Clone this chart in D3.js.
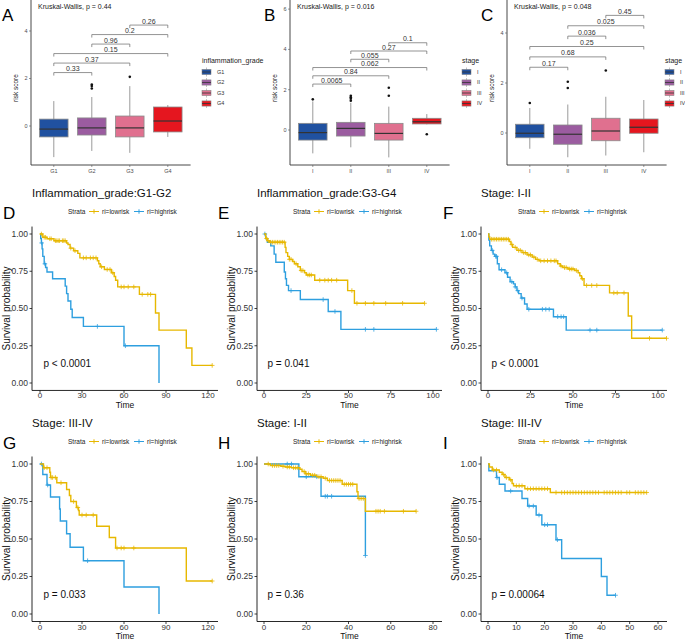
<!DOCTYPE html>
<html>
<head>
<meta charset="utf-8">
<script src="https://cdn.jsdelivr.net/npm/d3@7"></script>
<style>
  body { margin: 0; background: #fff; }
  text { font-family: "Liberation Sans", Arial, sans-serif; }
</style>
</head>
<body>
<svg id="fig" width="685" height="641"></svg>
<script>
// ---------- box plot data (whisker low, q1, median, q3, whisker high) ----------
const gradeGroups = ["G1", "G2", "G3", "G4"];
const stageGroups = ["I", "II", "III", "IV"];
const boxColors = ["#2051a0", "#9b5ca0", "#e0708f", "#e5161f"];

const aStats = [[-1.31, -0.46, -0.13, 0.29, 1.05], [-1.05, -0.38, -0.08, 0.34, 1.22], [-1.13, -0.46, -0.08, 0.42, 1.68], [-0.46, -0.25, 0.21, 0.80, 0.88]];
const aOutliers = [[], [1.58, 1.68, 1.75], [2.07], []];
const aPvals = ["0.33", "0.37", "0.15", "0.96", "0.2", "0.26"];

const bStats = [[-1.16, -0.5, -0.13, 0.33, 1.42], [-0.86, -0.3, 0.08, 0.38, 1.35], [-1.36, -0.5, -0.17, 0.33, 1.16], [0.28, 0.30, 0.41, 0.58, 0.79]];
const bOutliers = [[1.52], [1.45, 1.55, 1.62, 1.7], [2.1, 1.7], [-0.21]];
const bPvals = ["0.0065", "0.84", "0.062", "0.055", "0.27", "0.1"];

const cStats = [[-0.63, -0.19, -0.01, 0.35, 1.0], [-0.97, -0.45, -0.05, 0.32, 1.14], [-0.9, -0.31, 0.08, 0.59, 1.45], [-0.77, -0.01, 0.23, 0.56, 1.32]];
const cOutliers = [[1.2], [2.05, 1.8], [2.5], []];
const cPvals = ["0.17", "0.68", "0.25", "0.036", "0.025", "0.45"];

// pairwise comparisons, in drawing order (bottom to top)
const pairs = [[0, 1], [0, 2], [0, 3], [1, 2], [1, 3], [2, 3]];

// ---------- Kaplan-Meier data: [time, survival after drop] and censor times ----------
const dLow = [[2, 0.978], [5, 0.968], [10, 0.955], [19, 0.94], [20, 0.93], [21.5, 0.905], [24, 0.888], [27, 0.87], [28.5, 0.84], [41, 0.82], [42, 0.80], [43, 0.78], [46, 0.762], [51, 0.74], [53, 0.715], [54, 0.69], [55.5, 0.645], [71, 0.595], [82.5, 0.47], [85, 0.355], [104.5, 0.235], [108.5, 0.118]];
const dLowCens = [1, 3, 4, 7, 8, 11, 12, 13, 14, 16, 17, 18, 22, 25, 31, 33, 36, 38, 40, 44, 48, 50, 52, 58, 60, 63, 67, 73, 77, 79, 123];
const dHigh = [[0.5, 0.97], [1, 0.94], [1.5, 0.90], [2, 0.85], [3, 0.80], [4, 0.775], [5, 0.745], [9, 0.70], [18, 0.65], [19, 0.60], [20, 0.55], [22, 0.495], [23, 0.44], [31, 0.38], [60, 0.25], [85, 0]];
const dHighCens = [1.2, 3.5, 41, 61];

const eLow = [[1, 0.97], [2, 0.955], [3.5, 0.945], [12.5, 0.91], [13, 0.875], [14, 0.85], [15, 0.83], [17, 0.815], [18, 0.80], [20, 0.78], [21.5, 0.755], [24, 0.74], [25, 0.725], [30, 0.69], [49.5, 0.62], [53.5, 0.535]];
const eLowCens = [1.5, 2.5, 4, 5, 6, 7, 8, 9, 10, 11, 12, 15, 16, 19, 22, 23, 26, 27, 28, 33, 36, 38, 40, 43, 52, 55, 60, 65, 72, 82, 95];
const eHigh = [[1, 0.97], [2, 0.945], [4, 0.92], [6, 0.865], [7, 0.81], [12, 0.745], [12.7, 0.70], [13.3, 0.655], [14.5, 0.62], [21.5, 0.56], [38, 0.48], [45.5, 0.36]];
const eHighCens = [0.5, 16, 35, 42, 60, 65, 102];

const fLow = [[0.5, 0.98], [1, 0.965], [12.5, 0.95], [13.5, 0.93], [14.5, 0.91], [17, 0.89], [20, 0.875], [23, 0.86], [26, 0.845], [28, 0.83], [30, 0.82], [41, 0.80], [42.5, 0.785], [44, 0.775], [47, 0.765], [51, 0.755], [53, 0.74], [54, 0.72], [55, 0.70], [56.5, 0.655], [71.5, 0.605], [82.5, 0.45], [84.5, 0.30]];
const fLowCens = [2, 3, 4, 5, 6, 7, 8, 9, 10, 11, 12, 14, 16, 18, 19, 21, 22, 24, 25, 27, 29, 31, 33, 35, 37, 39, 40, 43, 45, 46, 48, 49, 50, 52, 55.5, 58, 61, 64, 74, 76, 80, 95, 105];
const fHigh = [[0.5, 0.96], [1, 0.92], [2, 0.89], [3, 0.865], [4, 0.85], [5.5, 0.80], [6.5, 0.76], [10, 0.74], [11.5, 0.71], [13, 0.68], [15, 0.665], [16, 0.645], [17, 0.62], [18, 0.60], [19.5, 0.57], [21.5, 0.53], [23, 0.495], [38.5, 0.445], [46, 0.355]];
const fHighCens = [2.5, 4.5, 5, 8, 11, 14, 16, 17.5, 20, 24, 32, 34, 36, 41, 43, 44.5, 60, 64, 102.5];

const gLow = [[2.5, 0.975], [7, 0.945], [7.5, 0.91], [12, 0.875], [19, 0.83], [21, 0.79], [22, 0.75], [26, 0.71], [27.5, 0.69], [28, 0.66], [40.5, 0.585], [49.5, 0.51], [54, 0.44], [104.5, 0.22]];
const gLowCens = [3, 5, 8, 9, 11, 15, 24, 27, 30, 33, 38, 55, 58, 60, 67, 123];
const gHigh = [[2, 0.93], [5, 0.86], [7.5, 0.78], [14, 0.70], [14.5, 0.62], [19, 0.535], [21.5, 0.445], [31, 0.355], [60, 0.18], [85, 0]];
const gHighCens = [1, 5.5, 34];

const hLow = [[3, 0.99], [8, 0.985], [10, 0.98], [13, 0.975], [17, 0.965], [18, 0.95], [19.5, 0.935], [22, 0.925], [25, 0.915], [28, 0.905], [30, 0.89], [37, 0.865], [44, 0.815], [44.5, 0.77], [48, 0.685]];
const hLowCens = [2, 4, 5, 6, 7, 9, 11, 12, 14, 15, 16, 19, 20, 21, 23, 24, 26, 27, 29, 31, 32, 33, 34, 35, 36, 38, 39, 40, 41, 42, 45, 46, 47, 53, 54, 55, 57, 66, 72];
const hHigh = [[16.5, 0.915], [27, 0.785], [48, 0.39]];
const hHighCens = [11, 13, 20, 25, 29, 30, 32, 48];

const iLow = [[0.5, 0.98], [1.5, 0.96], [4, 0.945], [5, 0.93], [6, 0.91], [7.5, 0.895], [8.5, 0.87], [9, 0.855], [13, 0.835], [22, 0.81]];
const iLowCens = [2, 3, 5.5, 6.5, 8, 10, 11, 12, 14, 15, 16, 17, 18, 19, 20, 21, 24, 26, 27, 28, 29, 30, 31, 32, 33, 34, 35, 36, 37, 38, 39, 41, 42, 43, 44, 45, 46, 47, 49, 50, 52, 53, 54, 55, 56];
const iHigh = [[0.3, 0.955], [3, 0.91], [4, 0.865], [6, 0.82], [12, 0.77], [14, 0.72], [17, 0.66], [19, 0.595], [24, 0.495], [26, 0.37], [40, 0.25], [42, 0.125]];
const iHighCens = [3.2, 8, 14.5, 16, 18, 20, 21, 24.5, 45];

const survTicks = [0, 0.25, 0.5, 0.75, 1];
const lowColor = "#E7B800", highColor = "#2E9FDF";

const svg = d3.select("#fig");

// ---------- box plot panel ----------
function boxPanel(o) {
  const g = svg.append("g");
  const step = 38;
  const x = d3.scalePoint().domain(o.groups).range([o.left + 0.6 * step, o.left + 3.6 * step]);
  const y = d3.scaleLinear().domain([0, 2]).range([o.zeroPx, o.zeroPx - o.twoPx]);
  const bottom = 165, right = o.left + 4.2 * step;
  const bw = 0.75 * step;

  // axes
  g.append("line").attr("x1", o.left).attr("x2", o.left).attr("y1", 0).attr("y2", bottom).attr("stroke", "#333").attr("stroke-width", 0.9);
  g.append("line").attr("x1", o.left).attr("x2", right).attr("y1", bottom).attr("y2", bottom).attr("stroke", "#333").attr("stroke-width", 0.9);
  o.yTicks.forEach(v => {
    g.append("line").attr("x1", o.left - 2).attr("x2", o.left).attr("y1", y(v)).attr("y2", y(v)).attr("stroke", "#555").attr("stroke-width", 0.6);
    g.append("text").attr("x", o.left - 3.5).attr("y", y(v)).attr("dy", "0.35em").attr("text-anchor", "end")
      .attr("font-size", 5.5).attr("fill", "#4d4d4d").text(v);
  });
  o.groups.forEach(k => {
    g.append("line").attr("x1", x(k)).attr("x2", x(k)).attr("y1", bottom).attr("y2", bottom + 2).attr("stroke", "#555").attr("stroke-width", 0.6);
    g.append("text").attr("x", x(k)).attr("y", bottom + 8).attr("text-anchor", "middle")
      .attr("font-size", 5.5).attr("fill", "#4d4d4d").text(k);
  });
  g.append("text").attr("transform", `translate(${o.left - 13},88) rotate(-90)`).attr("text-anchor", "middle")
    .attr("font-size", 6.5).attr("fill", "#222").text("risk score");

  // boxes
  o.groups.forEach((k, i) => {
    const s = o.stats[i], cx = x(k);
    g.append("line").attr("x1", cx).attr("x2", cx).attr("y1", y(s[0])).attr("y2", y(s[4])).attr("stroke", "#9a9a9a").attr("stroke-width", 1);
    g.append("rect").attr("x", cx - bw / 2).attr("width", bw).attr("y", y(s[3])).attr("height", y(s[1]) - y(s[3]))
      .attr("fill", boxColors[i]).attr("stroke", "#8a8a8a").attr("stroke-width", 0.8);
    g.append("line").attr("x1", cx - bw / 2).attr("x2", cx + bw / 2).attr("y1", y(s[2])).attr("y2", y(s[2])).attr("stroke", "#333").attr("stroke-width", 1.2);
    g.selectAll(null).data(o.outliers[i]).enter().append("circle")
      .attr("cx", cx).attr("cy", d => y(d)).attr("r", 1.3).attr("fill", "#111");
  });

  // pairwise brackets
  pairs.forEach((p, i) => {
    const yy = y(o.base + i * o.inc), x1 = x(o.groups[p[0]]), x2 = x(o.groups[p[1]]);
    g.append("path").attr("d", `M${x1},${yy + 3}V${yy}H${x2}V${yy + 3}`).attr("fill", "none").attr("stroke", "#666").attr("stroke-width", 0.7);
    g.append("text").attr("x", (x1 + x2) / 2).attr("y", yy - 1.5).attr("text-anchor", "middle")
      .attr("font-size", 7).attr("fill", "#333").text(o.pvals[i]);
  });

  g.append("text").attr("x", o.left + 7).attr("y", 8.5).attr("font-size", 7).attr("fill", "#222").text(o.kw);
  g.append("text").attr("x", o.letterX).attr("y", 21).attr("font-size", 17).attr("fill", "#000").text(o.letter);

  // legend
  const lg = svg.append("g");
  lg.append("text").attr("x", o.legX).attr("y", 63).attr("font-size", 7).attr("fill", "#222").text(o.legTitle);
  o.groups.forEach((k, i) => {
    const cy = 72 + i * 10.5;
    lg.append("line").attr("x1", o.legX + 4.5).attr("x2", o.legX + 4.5).attr("y1", cy - 4.5).attr("y2", cy + 4.5).attr("stroke", "#9a9a9a").attr("stroke-width", 0.6);
    lg.append("rect").attr("x", o.legX).attr("y", cy - 2.6).attr("width", 9).attr("height", 5.2).attr("fill", boxColors[i]).attr("stroke", "#8a8a8a").attr("stroke-width", 0.6);
    lg.append("line").attr("x1", o.legX).attr("x2", o.legX + 9).attr("y1", cy).attr("y2", cy).attr("stroke", "#333").attr("stroke-width", 0.8);
    lg.append("text").attr("x", o.legX + 15).attr("y", cy).attr("dy", "0.35em").attr("font-size", 5.5).attr("fill", "#333").text(k);
  });
}

boxPanel({ left: 31, zeroPx: 126, twoPx: 47.5, yTicks: [0, 2, 4], groups: gradeGroups, stats: aStats, outliers: aOutliers,
  pvals: aPvals, base: 2.25, inc: 0.4, kw: "Kruskal-Wallis, p = 0.44", letter: "A", letterX: 2, legX: 202, legTitle: "inflammation_grade" });
boxPanel({ left: 290, zeroPx: 130, twoPx: 40.3, yTicks: [0, 2, 4, 6], groups: stageGroups, stats: bStats, outliers: bOutliers,
  pvals: bPvals, base: 2.28, inc: 0.41, kw: "Kruskal-Wallis, p = 0.016", letter: "B", letterX: 264, legX: 462, legTitle: "stage" });
boxPanel({ left: 507, zeroPx: 133, twoPx: 50, yTicks: [0, 2, 4], groups: stageGroups, stats: cStats, outliers: cOutliers,
  pvals: cPvals, base: 2.63, inc: 0.415, kw: "Kruskal-Wallis, p = 0.048", letter: "C", letterX: 481, legX: 665, legTitle: "stage" });

// ---------- Kaplan-Meier panel ----------
function survAt(steps, t) {
  let s = 1;
  steps.forEach(d => { if (d[0] <= t) s = d[1]; });
  return s;
}

function kmPanel(o) {
  const g = svg.append("g");
  const x = d3.scaleLinear().domain([0, o.tickMax]).range([o.x0, o.xMaxPx]);
  const y = d3.scaleLinear().domain([0, 1]).range([o.y0, o.y1]);
  const yb = y(-0.05), yt = y(1.05);

  g.append("line").attr("x1", o.left).attr("x2", o.left).attr("y1", yt).attr("y2", yb).attr("stroke", "#111").attr("stroke-width", 0.9);
  g.append("line").attr("x1", o.left).attr("x2", o.right).attr("y1", yb).attr("y2", yb).attr("stroke", "#111").attr("stroke-width", 0.9);

  survTicks.forEach(v => {
    g.append("line").attr("x1", o.left - 2.5).attr("x2", o.left).attr("y1", y(v)).attr("y2", y(v)).attr("stroke", "#111").attr("stroke-width", 0.8);
    g.append("text").attr("x", o.left - 4).attr("y", y(v)).attr("dy", "0.35em").attr("text-anchor", "end")
      .attr("font-size", 8.5).attr("fill", "#333").text(d3.format(".2f")(v));
  });
  o.xTicks.forEach(v => {
    g.append("line").attr("x1", x(v)).attr("x2", x(v)).attr("y1", yb).attr("y2", yb + 2.5).attr("stroke", "#111").attr("stroke-width", 0.8);
    g.append("text").attr("x", x(v)).attr("y", yb + 8).attr("text-anchor", "middle")
      .attr("font-size", 8).attr("fill", "#333").text(v);
  });
  g.append("text").attr("x", (o.left + o.right) / 2).attr("y", yb + 17.5).attr("text-anchor", "middle")
    .attr("font-size", 8.5).attr("fill", "#111").text("Time");
  g.append("text").attr("transform", `translate(${o.left - 22},${(yt + yb) / 2}) rotate(-90)`).attr("text-anchor", "middle")
    .attr("font-size", 10).attr("fill", "#111").text("Survival probability");

  const line = d3.line().x(d => x(d[0])).y(d => y(d[1])).curve(d3.curveStepAfter);
  [[o.high, o.highCens, highColor], [o.low, o.lowCens, lowColor]].forEach(([steps, cens, col]) => {
    const last = steps[steps.length - 1];
    const tEnd = Math.max(last[0], d3.max(cens));
    const pts = [[0, 1], ...steps, [tEnd, last[1]]];
    g.append("path").attr("d", line(pts)).attr("fill", "none").attr("stroke", col).attr("stroke-width", 1.4);
    const cp = cens.map(t => [x(t), y(survAt(steps, t))]);
    g.append("path").attr("d", cp.map(p => `M${p[0] - 2.3},${p[1]}h4.6M${p[0]},${p[1] - 2.3}v4.6`).join(""))
      .attr("stroke", col).attr("stroke-width", 0.8).attr("fill", "none");
  });

  g.append("text").attr("x", o.x0 + 3.5).attr("y", y(0.25) + 21.5).attr("font-size", 10).attr("fill", "#111").text(o.pText);

  // title, letter, legend
  g.append("text").attr("x", o.left).attr("y", o.titleY).attr("font-size", 11.5).attr("fill", "#111").text(o.title);
  g.append("text").attr("x", o.letterX).attr("y", o.titleY + 22).attr("font-size", 17).attr("fill", "#000").text(o.letter);
  const ly = o.titleY + 14.5, lx = o.legX;
  g.append("text").attr("x", lx).attr("y", ly).attr("dy", "0.35em").attr("font-size", 6.5).attr("fill", "#222").text("Strata");
  [[lx + 21, lowColor, "ri=lowrisk"], [lx + 66, highColor, "ri=highrisk"]].forEach(([sx, col, lab]) => {
    g.append("path").attr("d", `M${sx},${ly}h10M${sx + 5},${ly - 2.2}v4.4`).attr("stroke", col).attr("stroke-width", 1).attr("fill", "none");
    g.append("text").attr("x", sx + 13).attr("y", ly).attr("dy", "0.35em").attr("font-size", 6.5).attr("fill", "#222").text(lab);
  });
}

const row2 = { y1: 234, y0: 383, titleY: 197 };
const row3 = { y1: 464, y0: 614, titleY: 427 };
const colL = { left: 32, right: 218, x0: 40, xMaxPx: 208, letterX: 3, legX: 68 };
const colM = { left: 257, right: 442, x0: 264, xMaxPx: 433, letterX: 218, legX: 293 };
const colR = { left: 481, right: 667, x0: 488, xMaxPx: 658, letterX: 443, legX: 518 };

kmPanel({ ...row2, ...colL, tickMax: 120, xTicks: [0, 30, 60, 90, 120], title: "Inflammation_grade:G1-G2", letter: "D",
  pText: "p < 0.0001", low: dLow, lowCens: dLowCens, high: dHigh, highCens: dHighCens });
kmPanel({ ...row2, ...colM, tickMax: 100, xTicks: [0, 25, 50, 75, 100], title: "Inflammation_grade:G3-G4", letter: "E",
  pText: "p = 0.041", low: eLow, lowCens: eLowCens, high: eHigh, highCens: eHighCens });
kmPanel({ ...row2, ...colR, tickMax: 100, xTicks: [0, 25, 50, 75, 100], title: "Stage: I-II", letter: "F",
  pText: "p < 0.0001", low: fLow, lowCens: fLowCens, high: fHigh, highCens: fHighCens });
kmPanel({ ...row3, ...colL, tickMax: 120, xTicks: [0, 30, 60, 90, 120], title: "Stage: III-IV", letter: "G",
  pText: "p = 0.033", low: gLow, lowCens: gLowCens, high: gHigh, highCens: gHighCens });
kmPanel({ ...row3, ...colM, tickMax: 80, xTicks: [0, 20, 40, 60, 80], title: "Stage: I-II", letter: "H",
  pText: "p = 0.36", low: hLow, lowCens: hLowCens, high: hHigh, highCens: hHighCens });
kmPanel({ ...row3, ...colR, tickMax: 60, xTicks: [0, 10, 20, 30, 40, 50, 60], title: "Stage: III-IV", letter: "I",
  pText: "p = 0.00064", low: iLow, lowCens: iLowCens, high: iHigh, highCens: iHighCens });
</script>
</body>
</html>
